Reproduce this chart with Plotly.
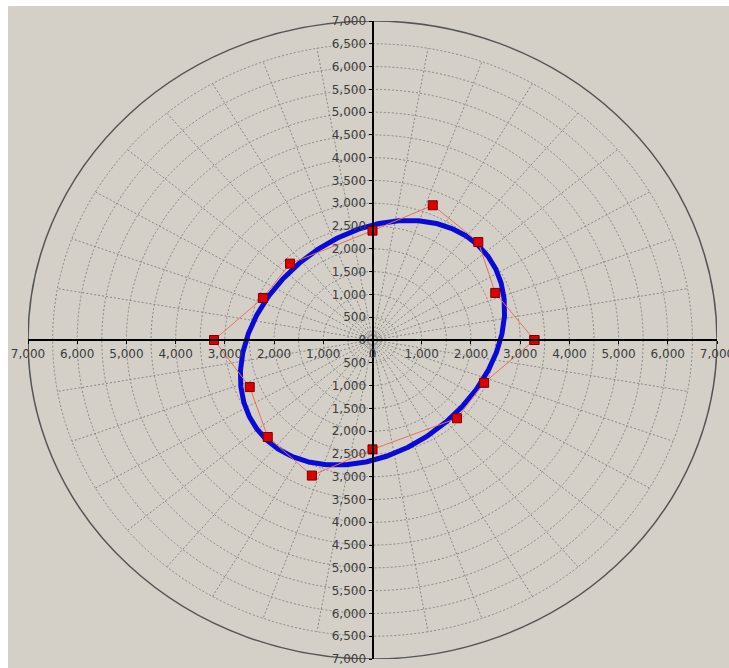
import numpy as np
import plotly.graph_objects as go

# ---- data ----
theta_deg = [0, 22.5, 45, 67.5, 90, 135, 157.5, 180, 202.5, 225, 247.5, 270, 315, 337.5]
radius = [3290, 2700, 3040, 3200, 2400, 2370, 2410, 3220, 2700, 3010, 3220, 2400, 2430, 2455]

ellipse_center = (0, -60)
ellipse_semi_axes = (3030, 2290)
ellipse_tilt_deg = 45

grid_radii = list(range(500, 7000, 500))
outer_radius = 7000
spoke_angles = list(range(0, 360, 10))

x_tick_vals = list(range(-7000, 7001, 1000))
y_tick_vals = list(range(-7000, 7001, 500))

BG = "#d4d0c8"
GRID = "#888888"

# ---- conversion polar -> cartesian ----
th = np.radians(theta_deg)
r = np.array(radius, dtype=float)
px = r * np.cos(th)
py = r * np.sin(th)
px = np.append(px, px[0])
py = np.append(py, py[0])

t = np.linspace(0, 2 * np.pi, 721)
a, b = ellipse_semi_axes
phi = np.radians(ellipse_tilt_deg)
ex = ellipse_center[0] + a * np.cos(t) * np.cos(phi) - b * np.sin(t) * np.sin(phi)
ey = ellipse_center[1] + a * np.cos(t) * np.sin(phi) + b * np.sin(t) * np.cos(phi)

fig = go.Figure()
fig.add_trace(go.Scatter(x=ex, y=ey, mode="lines",
                         line=dict(color="#0a0ad8", width=5),
                         hoverinfo="skip", showlegend=False))
fig.add_trace(go.Scatter(x=px, y=py, mode="lines+markers",
                         line=dict(color="#e8705f", width=1),
                         marker=dict(symbol="square", size=9, color="#dd0000",
                                     line=dict(color="#7a0000", width=1)),
                         showlegend=False))

shapes = []
for gr in grid_radii:
    shapes.append(dict(type="circle", xref="x", yref="y", x0=-gr, x1=gr, y0=-gr, y1=gr,
                       line=dict(color=GRID, width=1, dash="2px,2px"), layer="below"))
shapes.append(dict(type="circle", xref="x", yref="y", x0=-150, x1=150, y0=-150, y1=150,
                   line=dict(color=GRID, width=1, dash="2px,2px"), layer="below"))
for ang in spoke_angles:
    ra = np.radians(ang)
    shapes.append(dict(type="line", xref="x", yref="y", x0=0, y0=0,
                       x1=grid_radii[-1] * np.cos(ra), y1=grid_radii[-1] * np.sin(ra),
                       line=dict(color=GRID, width=1, dash="2px,2px"), layer="below"))
shapes.append(dict(type="circle", xref="x", yref="y", x0=-outer_radius, x1=outer_radius,
                   y0=-outer_radius, y1=outer_radius,
                   line=dict(color="#555555", width=1.5), layer="below"))
# white strips at top and left edge of the picture
shapes.append(dict(type="rect", xref="paper", yref="paper", x0=-0.05, x1=1.05,
                   y0=(659 - 6) / 638, y1=1.1, fillcolor="white", line=dict(width=0), layer="above"))
shapes.append(dict(type="rect", xref="paper", yref="paper", x0=-0.1, x1=(8 - 28) / 689,
                   y0=-0.1, y1=1.1, fillcolor="white", line=dict(width=0), layer="above"))

tickfont = dict(family="DejaVu Sans", size=12, color="#3c3c3c")

def fmt(v):
    return f"{abs(v):,}"

fig.update_layout(
    width=729, height=668,
    margin=dict(l=28, r=12, t=21, b=9),
    paper_bgcolor=BG, plot_bgcolor="rgba(0,0,0,0)",
    shapes=shapes,
    xaxis=dict(range=[-7000, 7000], anchor="free", position=0.5, showline=True,
               linecolor="black", linewidth=2, ticks="outside", ticklen=3,
               tickcolor="black", tickvals=x_tick_vals,
               ticktext=[fmt(v) for v in x_tick_vals], showgrid=False, zeroline=False,
               tickfont=tickfont, automargin=False, fixedrange=True,
               ticklabeloverflow="allow"),
    yaxis=dict(range=[-7000, 7000], anchor="free", position=0.5, side="left",
               showline=True, linecolor="black", linewidth=2, ticks="outside",
               ticklen=3, tickcolor="black", tickvals=y_tick_vals,
               ticktext=[fmt(v) for v in y_tick_vals], showgrid=False, zeroline=False,
               tickfont=tickfont, automargin=False, fixedrange=True,
               ticklabeloverflow="allow"),
)

fig.write_html(
    "out.html",
    config={"displayModeBar": False},
    post_script="document.body.style.margin='0';document.documentElement.style.overflow='hidden';",
)
